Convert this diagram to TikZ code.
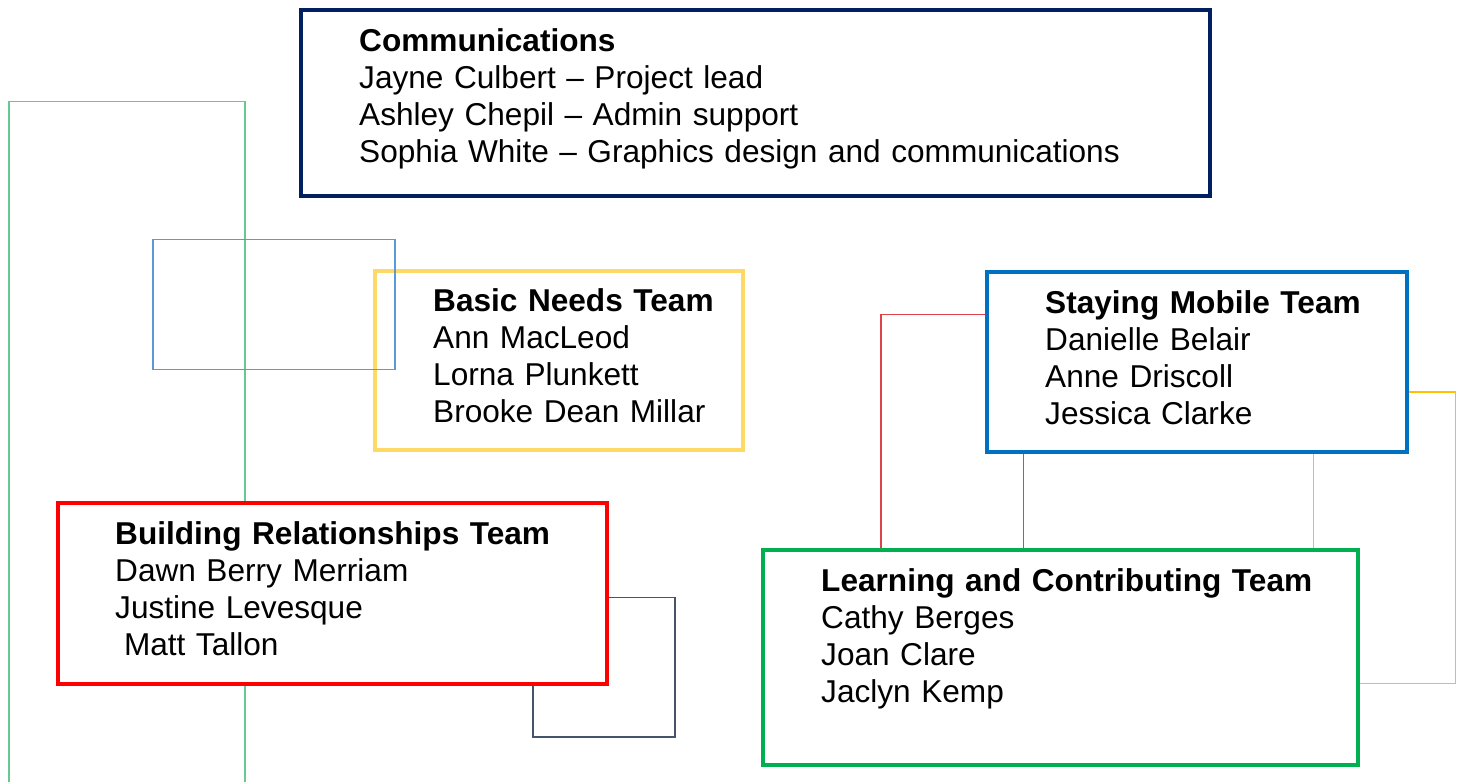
\documentclass[tikz,border=0pt]{standalone}
\usepackage{fontspec}
\setmainfont{Liberation Sans}
\usetikzlibrary{calc}
\pgfdeclarelayer{bg}
\pgfsetlayers{bg,main}
\definecolor{navyc}{HTML}{002060}
\definecolor{yellowc}{HTML}{FFD966}
\definecolor{bluec}{HTML}{0070C0}
\definecolor{greenc}{HTML}{00B050}
\definecolor{redc}{HTML}{FF0000}
\definecolor{thingreen}{HTML}{66C990}
\definecolor{thinblue}{HTML}{5B9BD5}
\definecolor{thinnavy}{HTML}{44546A}
\definecolor{thinred}{HTML}{DE434B}
\definecolor{thinyellow}{HTML}{FFC000}
\tikzset{
  box/.style={draw, fill=white, rectangle, inner sep=0pt, outer sep=0pt, anchor=north west},
  txt/.style={anchor=base west, inner sep=0pt, align=left, text width=900pt,
              font=\fontsize{31.6}{37}\selectfont},
  thinline/.style={line width=1.3pt},
}
\begin{document}
\begin{tikzpicture}[x=1pt,y=-1pt]
\useasboundingbox (0,0) rectangle (1465,782);

% decorative thin shapes behind the boxes
\draw[thinline, thingreen] (9,782) -- (9,101.5) -- (245,101.5) -- (245,782);
\draw[thinline, thinnavy] (533,597.5) rectangle (675,737);

% team boxes
\node[box, draw=navyc, line width=3.5pt, minimum width=909pt, minimum height=186pt] (comm) at (301,10) {};
\node[box, draw=yellowc, line width=4pt, minimum width=368pt, minimum height=179pt] (bn) at (375,271) {};
\node[box, draw=bluec, line width=4.5pt, minimum width=420pt, minimum height=180pt] (sm) at (987,272) {};
\node[box, draw=greenc, line width=4.5pt, minimum width=595pt, minimum height=215pt] (lc) at (763,550) {};
\node[box, draw=redc, line width=4.5pt, minimum width=549pt, minimum height=181pt] (br) at (58,503) {};

% texts
\node[txt] (commt) at (359,51) {\textbf{Communications}\\Jayne Culbert – Project lead\\Ashley Chepil – Admin support\\Sophia White – Graphics design and communications};
\node[txt] (bnt) at (433,311) {\textbf{Basic Needs Team}\\Ann MacLeod\\Lorna Plunkett\\Brooke Dean Millar};
\node[txt] (smt) at (1045,313) {\textbf{Staying Mobile Team}\\Danielle Belair\\Anne Driscoll\\Jessica Clarke};
\node[txt] (lct) at (821,591) {\textbf{Learning and Contributing Team}\\Cathy Berges\\Joan Clare\\Jaclyn Kemp};
\node[txt] (brt) at (115,544) {\textbf{Building Relationships Team}\\Dawn Berry Merriam\\Justine Levesque\\\hspace*{8.8pt}Matt Tallon};

% thin blue rectangle on top of the yellow box
\draw[thinline, thinblue] (153,239.5) rectangle (395,369.5);

% thin connectors
\begin{pgfonlayer}{bg}
\draw[thinline, thinred] (sm.west |- 0,314.5) -| (lc.north -| 881,0);
\draw[thinline, thinred] (sm.south -| 1023.5,0) -- (lc.north -| 1023.5,0);
\draw[thinline, thinyellow] (sm.east |- 0,392) -- (1455.5,392) |- (lc.east |- 0,683.5);
\draw[thinline, thinyellow] (sm.south -| 1313.5,0) -- (lc.north -| 1313.5,0);
\end{pgfonlayer}
\end{tikzpicture}
\end{document}
